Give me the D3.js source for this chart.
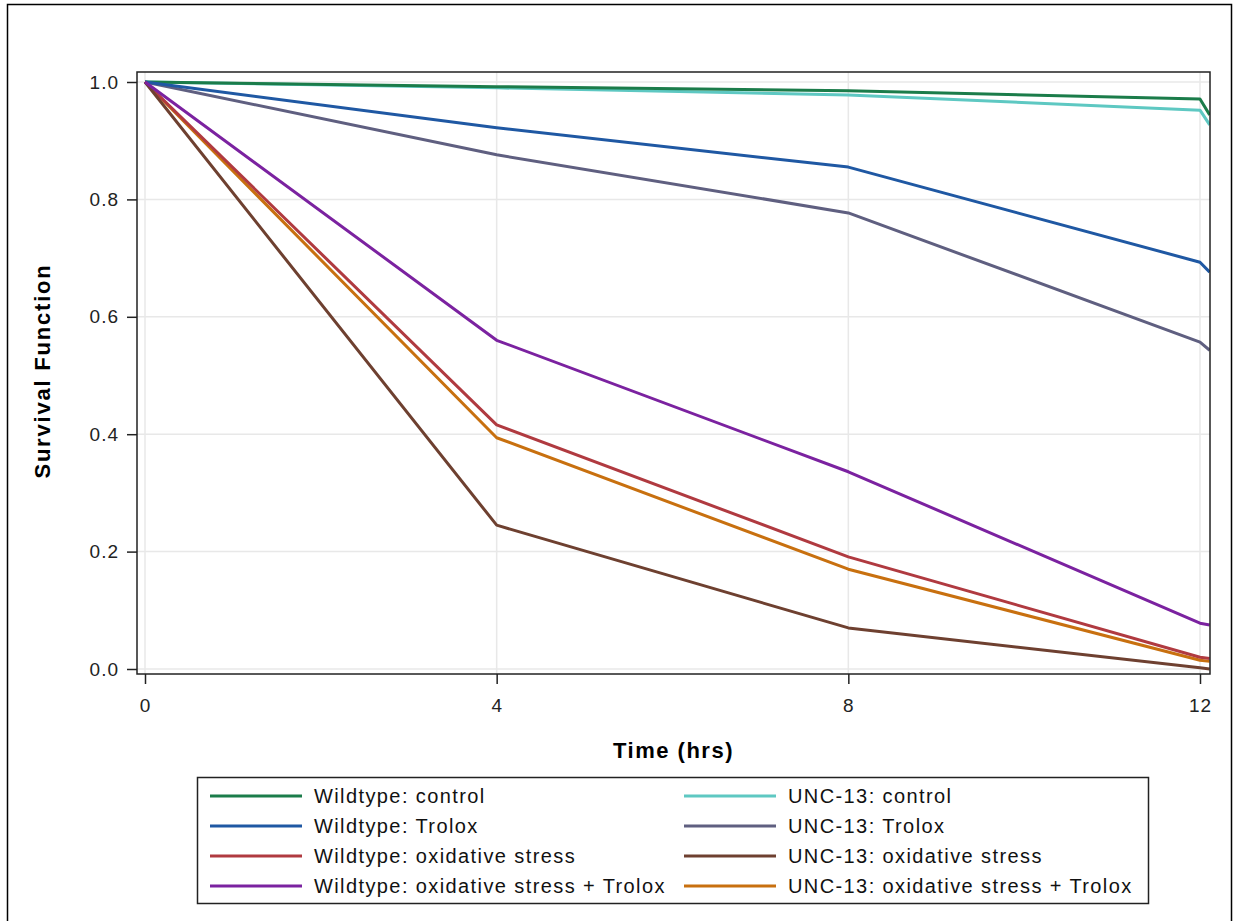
<!DOCTYPE html>
<html>
<head>
<meta charset="utf-8">
<script src="https://cdn.jsdelivr.net/npm/d3@7"></script>
<style>
  body { margin: 0; background: #fff; }
  text { font-family: "Liberation Sans", Arial, sans-serif; }
</style>
</head>
<body>
<script>
const width = 1236;
const height = 921;

// data
const times = [0, 4, 8, 12, 12.11];
const seriesNames = [
  "Wildtype: control", "Wildtype: Trolox", "Wildtype: oxidative stress", "Wildtype: oxidative stress + Trolox",
  "UNC-13: control", "UNC-13: Trolox", "UNC-13: oxidative stress", "UNC-13: oxidative stress + Trolox"
];
const wtControl = [1, 0.992, 0.985, 0.971, 0.944];
const wtTrolox = [1, 0.922, 0.855, 0.693, 0.676];
const wtOx = [1, 0.416, 0.191, 0.02, 0.018];
const wtOxTrolox = [1, 0.560, 0.336, 0.078, 0.075];
const uncControl = [1, 0.99, 0.978, 0.952, 0.927];
const uncTrolox = [1, 0.876, 0.777, 0.557, 0.543];
const uncOx = [1, 0.245, 0.07, 0.002, 0.0];
const uncOxTrolox = [1, 0.394, 0.170, 0.015, 0.013];
const seriesColors = ["#1b7c4a", "#1f58a3", "#b03a40", "#7b22a0", "#5ec8c2", "#5f5f80", "#6e4030", "#c8700f"];
const xTicks = [0, 4, 8, 12];
const yTicks = [0, 0.2, 0.4, 0.6, 0.8, 1.0];

const allSeries = [wtControl, wtTrolox, wtOx, wtOxTrolox, uncControl, uncTrolox, uncOx, uncOxTrolox];
// draw order so the WT lines sit on top
const drawOrder = [4, 0, 5, 1, 7, 2, 6, 3];

const plot = { left: 137, top: 72, right: 1210, bottom: 674 };

const x = d3.scaleLinear().domain([0, 12]).range([145, 1200]);
const y = d3.scaleLinear().domain([0, 1]).range([669, 82]);

const svg = d3.select("body").append("svg")
  .attr("width", width)
  .attr("height", height);

// outer frame
svg.append("rect")
  .attr("x", 7.5).attr("y", 4.5)
  .attr("width", 1224).attr("height", 930)
  .attr("fill", "none")
  .attr("stroke", "#000")
  .attr("stroke-width", 1.5);

// gridlines
const grid = svg.append("g");
grid.selectAll(".gy").data(yTicks).enter().append("line")
  .attr("x1", plot.left).attr("x2", plot.right)
  .attr("y1", d => y(d)).attr("y2", d => y(d))
  .attr("stroke", "#e8e8e8").attr("stroke-width", 1.5);
grid.selectAll(".gx").data(xTicks).enter().append("line")
  .attr("y1", plot.top).attr("y2", plot.bottom)
  .attr("x1", d => x(d)).attr("x2", d => x(d))
  .attr("stroke", "#e8e8e8").attr("stroke-width", 1.5);

// clip
svg.append("clipPath").attr("id", "clip")
  .append("rect")
  .attr("x", plot.left).attr("y", plot.top)
  .attr("width", plot.right - plot.left).attr("height", plot.bottom - plot.top);

const line = d3.line()
  .x((d, i) => x(times[i]))
  .y(d => y(d));

svg.append("g").attr("clip-path", "url(#clip)")
  .selectAll("path")
  .data(drawOrder)
  .enter().append("path")
  .attr("d", i => line(allSeries[i]))
  .attr("fill", "none")
  .attr("stroke", i => seriesColors[i])
  .attr("stroke-width", 3)
  .attr("stroke-linejoin", "round");

// plot frame
svg.append("rect")
  .attr("x", plot.left).attr("y", plot.top)
  .attr("width", plot.right - plot.left).attr("height", plot.bottom - plot.top)
  .attr("fill", "none")
  .attr("stroke", "#222")
  .attr("stroke-width", 1.5);

// axes
const yAxis = svg.append("g")
  .attr("transform", `translate(${plot.left},0)`)
  .call(d3.axisLeft(y).tickValues(yTicks).tickFormat(d3.format(".1f")).tickSize(10).tickPadding(9));
const xAxis = svg.append("g")
  .attr("transform", `translate(0,${plot.bottom})`)
  .call(d3.axisBottom(x).tickValues(xTicks).tickSize(10).tickPadding(15));

[yAxis, xAxis].forEach(a => {
  a.select(".domain").remove();
  a.selectAll("line").attr("stroke", "#222").attr("stroke-width", 1.5);
  a.selectAll("text")
    .attr("fill", "#222")
    .style("font-size", "19px")
    .style("letter-spacing", "1px")
    .style("font-family", "'Liberation Sans', Arial, sans-serif");
});
// keep right-aligned y labels flush despite trailing letter-spacing
yAxis.selectAll("text").attr("dx", "1px");

// axis titles
svg.append("text")
  .attr("x", (plot.left + plot.right) / 2)
  .attr("y", 758)
  .attr("text-anchor", "middle")
  .style("font-size", "22px")
  .style("font-weight", "bold")
  .style("letter-spacing", "1.5px")
  .text("Time (hrs)");

svg.append("text")
  .attr("transform", `translate(50,${(plot.top + plot.bottom) / 2 - 2}) rotate(-90)`)
  .attr("text-anchor", "middle")
  .style("font-size", "22px")
  .style("font-weight", "bold")
  .style("letter-spacing", "1.8px")
  .text("Survival Function");

// legend
const legend = svg.append("g");
legend.append("rect")
  .attr("x", 197.5).attr("y", 777.5)
  .attr("width", 951).attr("height", 126)
  .attr("fill", "none")
  .attr("stroke", "#222")
  .attr("stroke-width", 1.5);

const legendItems = legend.selectAll(".item")
  .data(seriesNames.map((name, i) => ({ name, i })))
  .enter().append("g")
  .attr("transform", d => {
    const col = d.i < 4 ? 0 : 1;
    const row = d.i % 4;
    return `translate(${col === 0 ? 210 : 684},${796 + row * 30})`;
  });

legendItems.append("line")
  .attr("x1", 0).attr("x2", 92)
  .attr("stroke", d => seriesColors[d.i])
  .attr("stroke-width", 3);

legendItems.append("text")
  .attr("x", 104)
  .attr("y", 7)
  .style("font-size", "20px")
  .style("letter-spacing", "1.4px")
  .attr("fill", "#111")
  .text(d => d.name);
</script>
</body>
</html>
